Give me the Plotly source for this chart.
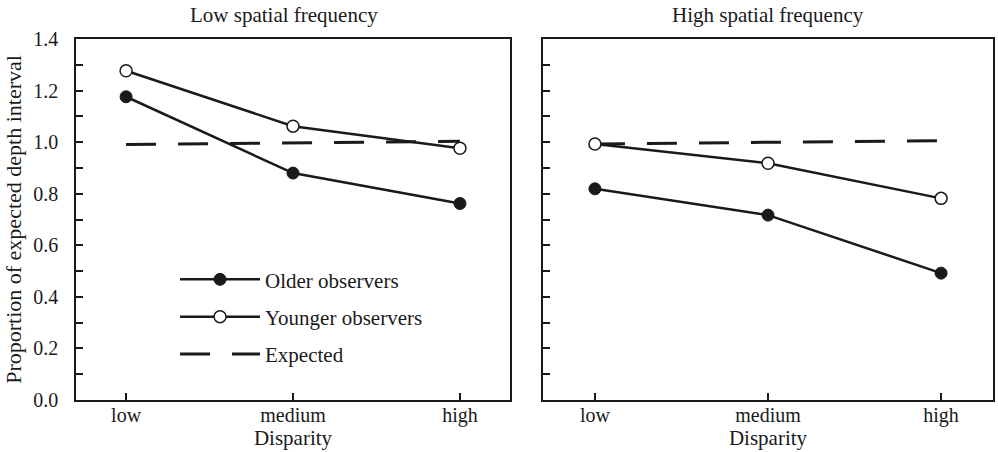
import plotly.graph_objects as go

categories = ["low", "medium", "high"]
older_low_sf = [1.176, 0.880, 0.762]
younger_low_sf = [1.277, 1.062, 0.976]
expected_low_sf = [0.991, 0.997, 1.003]
older_high_sf = [0.819, 0.717, 0.492]
younger_high_sf = [0.993, 0.918, 0.782]
expected_high_sf = [0.993, 0.999, 1.006]
y_tick_vals = [0.0, 0.2, 0.4, 0.6, 0.8, 1.0, 1.2, 1.4]
y_tick_text = ["0.0", "0.2", "0.4", "0.6", "0.8", "1.0", "1.2", "1.4"]
panel_titles = ["Low spatial frequency", "High spatial frequency"]

FONT = "Liberation Serif"
INK = "#1a1a1a"
xi = list(range(len(categories)))

fig = go.Figure()

def add_panel(xa, ya, older, younger, expected, show):
    fig.add_trace(go.Scatter(x=xi, y=expected, xaxis=xa, yaxis=ya, mode="lines",
                             line=dict(color=INK, width=3, dash="30px,22px"),
                             name="Expected", showlegend=show, legendgroup="c", legendrank=3))
    fig.add_trace(go.Scatter(x=xi, y=older, xaxis=xa, yaxis=ya, mode="lines+markers",
                             line=dict(color=INK, width=2.5),
                             marker=dict(symbol="circle", size=12, color=INK,
                                         line=dict(color=INK, width=1)),
                             name="Older observers", showlegend=show, legendgroup="a", legendrank=1))
    fig.add_trace(go.Scatter(x=xi, y=younger, xaxis=xa, yaxis=ya, mode="lines+markers",
                             line=dict(color=INK, width=2.5),
                             marker=dict(symbol="circle", size=12, color="white",
                                         line=dict(color=INK, width=1.5)),
                             name="Younger observers", showlegend=show, legendgroup="b", legendrank=2))

add_panel("x", "y", older_low_sf, younger_low_sf, expected_low_sf, True)
add_panel("x2", "y2", older_high_sf, younger_high_sf, expected_high_sf, False)

xcommon = dict(range=[-0.3, 2.3], tickmode="array", tickvals=xi, ticktext=categories,
               ticks="inside", ticklen=7, tickwidth=1.5, tickcolor=INK,
               showline=True, linecolor=INK, linewidth=1.5, mirror=True,
               showgrid=False, zeroline=False, automargin=False,
               ticklabelstandoff=-4,
               tickfont=dict(family=FONT, size=20, color=INK),
               title=dict(text="Disparity", font=dict(family=FONT, size=21, color=INK), standoff=4))
ycommon = dict(range=[0, 1.4], tickmode="array", tickvals=y_tick_vals, ticktext=y_tick_text,
               ticks="inside", ticklen=7, tickwidth=1.5, tickcolor=INK,
               minor=dict(dtick=0.1, ticks="inside", ticklen=7, tickwidth=1.5, tickcolor=INK),
               showline=True, linecolor=INK, linewidth=1.5, mirror=True,
               showgrid=False, zeroline=False, automargin=False,
               tickfont=dict(family=FONT, size=20, color=INK))

fig.update_layout(
    width=998, height=452,
    margin=dict(l=76, r=5, t=39, b=52),
    paper_bgcolor="white", plot_bgcolor="white",
    xaxis=dict(domain=[0, 0.4733], **xcommon),
    xaxis2=dict(domain=[0.5093, 1.0], anchor="y2", **xcommon),
    yaxis=dict(anchor="x", ticklabelstandoff=12,
               title=dict(text="Proportion of expected depth interval",
                          font=dict(family=FONT, size=22, color=INK), standoff=6),
               **ycommon),
    yaxis2=dict(anchor="x2", showticklabels=False, **ycommon),
    legend=dict(x=0.108, y=0.39, xanchor="left", yanchor="top",
                bgcolor="rgba(0,0,0,0)", tracegroupgap=7,
                font=dict(family=FONT, size=21, color=INK), itemwidth=80),
    showlegend=True,
)

fig.add_annotation(text=panel_titles[0], x=0.227, y=1.0, xref="paper", yref="paper",
                   xanchor="center", yanchor="bottom", yshift=10, showarrow=False,
                   font=dict(family=FONT, size=21, color=INK))
fig.add_annotation(text=panel_titles[1], x=0.755, y=1.0, xref="paper", yref="paper",
                   xanchor="center", yanchor="bottom", yshift=10, showarrow=False,
                   font=dict(family=FONT, size=21, color=INK))

fig.write_html("out.html", config={"displayModeBar": False},
               post_script="document.body.style.margin='0';")
